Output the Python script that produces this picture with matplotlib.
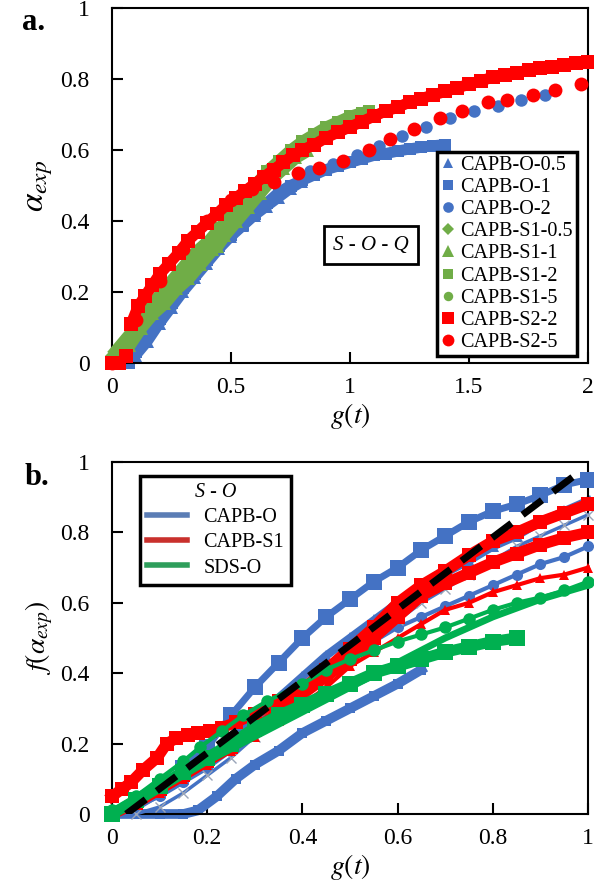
import matplotlib

matplotlib.use("Agg")
import matplotlib.pyplot as plt
from matplotlib.lines import Line2D

plt.rcParams["font.family"] = ["Liberation Serif", "DejaVu Serif"]
plt.rcParams["mathtext.fontset"] = "stix"

BLUE = "#4472C4"
GREEN_A = "#70AD47"
GREEN_B = "#00B050"
RED = "#FF0000"

# ---------------- panel a: alpha_exp vs g(t) ----------------
s2_2_x = [0, 0.03, 0.06, 0.08, 0.11, 0.14, 0.17, 0.2, 0.24, 0.28, 0.32, 0.36, 0.40, 0.44, 0.48,
          0.52, 0.56, 0.60, 0.64, 0.68, 0.72, 0.76, 0.80, 0.85, 0.90, 0.95, 1.0, 1.05, 1.1, 1.15,
          1.2, 1.25, 1.3, 1.35, 1.4, 1.45, 1.5, 1.55, 1.6, 1.65, 1.7, 1.75, 1.8, 1.85, 1.9, 1.95, 2.0]
s2_2_y = [0.0, 0.0, 0.02, 0.11, 0.16, 0.19, 0.22, 0.25, 0.28, 0.31, 0.345, 0.37, 0.395, 0.42, 0.445,
          0.465, 0.485, 0.505, 0.525, 0.545, 0.565, 0.585, 0.60, 0.615, 0.635, 0.65, 0.665, 0.68, 0.695,
          0.71, 0.72, 0.735, 0.745, 0.755, 0.765, 0.775, 0.785, 0.795, 0.805, 0.81, 0.818, 0.825, 0.83,
          0.835, 0.84, 0.845, 0.848]

s2_5_x = [0.0, 0.1, 0.2, 0.3, 0.4, 0.5, 0.59, 0.68, 0.78, 0.87, 0.97, 1.08, 1.17, 1.27, 1.38,
          1.47, 1.58, 1.66, 1.77, 1.86, 1.97]
s2_5_y = [0.0, 0.12, 0.23, 0.32, 0.40, 0.46, 0.49, 0.51, 0.535, 0.55, 0.57, 0.60, 0.63, 0.66, 0.69,
          0.71, 0.735, 0.74, 0.755, 0.77, 0.785]

o2_x = [0.1, 0.2, 0.3, 0.4, 0.5, 0.6, 0.7, 0.83, 0.93, 1.03, 1.12, 1.22, 1.32, 1.42, 1.52, 1.62,
        1.72, 1.82]
o2_y = [0.03, 0.12, 0.21, 0.29, 0.36, 0.43, 0.48, 0.54, 0.56, 0.585, 0.61, 0.64, 0.665, 0.69, 0.71,
        0.725, 0.74, 0.755]

o1_x = [0.07, 0.1, 0.15, 0.2, 0.25, 0.3, 0.35, 0.4, 0.45, 0.5, 0.55, 0.6, 0.65, 0.7, 0.75, 0.8,
        0.85, 0.9, 0.95, 1.0, 1.05, 1.1, 1.15, 1.2, 1.25, 1.3, 1.35, 1.4]
o1_y = [0.0, 0.03, 0.08, 0.125, 0.17, 0.21, 0.25, 0.29, 0.33, 0.36, 0.39, 0.42, 0.45, 0.48, 0.50,
        0.515, 0.53, 0.545, 0.555, 0.565, 0.575, 0.585, 0.59, 0.597, 0.603, 0.608, 0.612, 0.615]

o05_x = [0.06, 0.1, 0.15, 0.2, 0.25, 0.3, 0.35, 0.4, 0.45, 0.5, 0.55, 0.6, 0.65, 0.7, 0.75, 0.8]
o05_y = [0.0, 0.02, 0.06, 0.11, 0.155, 0.2, 0.24, 0.28, 0.32, 0.355, 0.385, 0.415, 0.44, 0.465,
         0.49, 0.51]

s1_2_x = [0.0, 0.05, 0.1, 0.15, 0.2, 0.25, 0.3, 0.35, 0.4, 0.45, 0.5, 0.55, 0.6, 0.65, 0.7, 0.75,
          0.8, 0.85, 0.9, 0.95, 1.0, 1.05, 1.08]
s1_2_y = [0.0, 0.04, 0.09, 0.14, 0.18, 0.22, 0.26, 0.30, 0.34, 0.38, 0.42, 0.46, 0.50, 0.54, 0.57,
          0.60, 0.625, 0.645, 0.665, 0.68, 0.695, 0.705, 0.71]

s1_1_x = [0.02, 0.07, 0.12, 0.17, 0.22, 0.27, 0.32, 0.37, 0.42, 0.44, 0.47, 0.52, 0.57, 0.62, 0.67,
          0.72, 0.77, 0.82]
s1_1_y = [0.0, 0.05, 0.10, 0.14, 0.17, 0.21, 0.24, 0.28, 0.32, 0.33, 0.36, 0.40, 0.44, 0.48, 0.52,
          0.55, 0.58, 0.60]

s1_05_x = [0.0, 0.05, 0.1, 0.15, 0.2, 0.25, 0.3, 0.35, 0.4]
s1_05_y = [0.02, 0.06, 0.1, 0.15, 0.19, 0.23, 0.27, 0.31, 0.34]

s1_5_x = [0.0, 0.05, 0.1, 0.15, 0.2, 0.25, 0.3]
s1_5_y = [0.01, 0.05, 0.09, 0.13, 0.17, 0.21, 0.25]

# ---------------- panel b: f(alpha_exp) vs g(t) ----------------
b_x21 = [0.0, 0.05, 0.1, 0.15, 0.2, 0.25, 0.3, 0.35, 0.4, 0.45, 0.5, 0.55, 0.6, 0.65, 0.7,
         0.75, 0.8, 0.85, 0.9, 0.95, 1.0]

capbo_sq_y = [0.0, 0.04, 0.08, 0.13, 0.19, 0.28, 0.36, 0.43, 0.50, 0.56, 0.61, 0.66, 0.70, 0.75,
              0.79, 0.83, 0.86, 0.88, 0.905, 0.935, 0.95]
capbo_dense_y = [0.0, 0.02, 0.06, 0.10, 0.15, 0.21, 0.27, 0.33, 0.39, 0.45, 0.50, 0.55, 0.60, 0.645,
                 0.685, 0.72, 0.76, 0.79, 0.83, 0.86, 0.89]
capbo_x_y = [0.0, 0.0, 0.02, 0.06, 0.11, 0.16, 0.22, 0.27, 0.33, 0.39, 0.45, 0.50, 0.55, 0.60,
             0.64, 0.68, 0.72, 0.76, 0.79, 0.82, 0.85]
capbo_circ_y = [0.0, 0.02, 0.05, 0.09, 0.13, 0.18, 0.23, 0.28, 0.33, 0.39, 0.44, 0.49, 0.53, 0.56,
                0.59, 0.62, 0.65, 0.68, 0.71, 0.73, 0.76]
capbo_low_x = [0.0, 0.05, 0.1, 0.15, 0.18, 0.22, 0.26, 0.3, 0.35, 0.4, 0.45, 0.5, 0.55, 0.6, 0.65]
capbo_low_y = [0.0, 0.0, 0.0, 0.0, 0.01, 0.05, 0.10, 0.14, 0.18, 0.23, 0.265, 0.30, 0.335, 0.37,
               0.41]

s1_up_x = [0.0, 0.02, 0.04, 0.065, 0.095, 0.115, 0.135, 0.16, 0.18, 0.205, 0.23, 0.26, 0.3, 0.35,
           0.4, 0.45, 0.5, 0.55, 0.6, 0.65, 0.7, 0.75, 0.8, 0.85, 0.9, 0.95, 1.0]
s1_up_y = [0.05, 0.07, 0.09, 0.125, 0.16, 0.20, 0.215, 0.225, 0.23, 0.235, 0.245, 0.26, 0.285, 0.32,
           0.355, 0.41, 0.47, 0.53, 0.60, 0.65, 0.69, 0.735, 0.775, 0.80, 0.83, 0.855, 0.88]
s1_low_y = [0.0, 0.03, 0.07, 0.11, 0.15, 0.19, 0.24, 0.29, 0.34, 0.39, 0.44, 0.50, 0.56, 0.62,
            0.655, 0.685, 0.715, 0.74, 0.765, 0.785, 0.80]
s1_tri_y = [0.0, 0.03, 0.06, 0.10, 0.14, 0.18, 0.22, 0.265, 0.31, 0.36, 0.42, 0.46, 0.50, 0.54,
            0.58, 0.60, 0.63, 0.65, 0.67, 0.68, 0.70]

sds_circ_x = [0.0, 0.05, 0.1, 0.15, 0.185, 0.23, 0.275, 0.325, 0.4, 0.45, 0.5, 0.55, 0.6, 0.65,
              0.7, 0.75, 0.8, 0.85, 0.9, 0.95, 1.0]
sds_circ_y = [0.01, 0.05, 0.10, 0.15, 0.19, 0.235, 0.28, 0.32, 0.37, 0.41, 0.44, 0.465, 0.49, 0.51,
              0.53, 0.555, 0.58, 0.60, 0.615, 0.635, 0.66]
sds_sq_x = [0.0, 0.05, 0.1, 0.15, 0.2, 0.25, 0.3, 0.35, 0.4, 0.45, 0.5, 0.55, 0.6, 0.65, 0.7,
            0.75, 0.8, 0.85]
sds_sq_y = [0.0, 0.04, 0.08, 0.12, 0.16, 0.20, 0.245, 0.28, 0.31, 0.34, 0.37, 0.40, 0.42, 0.44,
            0.46, 0.475, 0.49, 0.50]
sds_line_y = [0.0, 0.03, 0.07, 0.11, 0.15, 0.185, 0.22, 0.255, 0.29, 0.325, 0.36, 0.395, 0.43,
              0.465, 0.50, 0.53, 0.56, 0.585, 0.61, 0.63, 0.65]

fit_x = [0.03, 0.99]
fit_y = [0.0, 0.98]


def style_axes(ax, xticks, xlabels):
    ax.set_ylim(0, 1)
    ax.set_yticks([0, 0.2, 0.4, 0.6, 0.8, 1.0])
    ax.set_yticklabels(["0", "0.2", "0.4", "0.6", "0.8", "1"])
    ax.set_xticks(xticks)
    ax.set_xticklabels(xlabels)
    ax.tick_params(direction="in", length=8, width=1.5, labelsize=17)
    ax.tick_params(axis="y", pad=16)
    ax.tick_params(axis="x", pad=10)
    ax.tick_params(top=False, right=False)
    for spine in ax.spines.values():
        spine.set_linewidth(1.5)


def band(ax, x, y, color, width, z):
    # thick line under dense markers so the marker run reads as one band
    ax.plot(x, y, color=color, lw=width, solid_capstyle="butt", clip_on=False, zorder=z)


fig = plt.figure(figsize=(5.94, 8.9), dpi=100)
ax_a = fig.add_axes([0.1886, 0.5921, 0.8013, 0.3989])
ax_b = fig.add_axes([0.1886, 0.0854, 0.8013, 0.3955])

# panel a
mk = dict(linestyle="none", clip_on=False, markeredgewidth=0)
band(ax_a, o05_x, o05_y, BLUE, 7, 2)
band(ax_a, o1_x, o1_y, BLUE, 8, 2)
ax_a.plot(o05_x, o05_y, marker="^", ms=9, color=BLUE, label="CAPB-O-0.5", zorder=2, **mk)
ax_a.plot(o1_x, o1_y, marker="s", ms=8, color=BLUE, label="CAPB-O-1", zorder=2, **mk)
ax_a.plot(o2_x, o2_y, marker="o", ms=9, color=BLUE, label="CAPB-O-2", zorder=3, **mk)
band(ax_a, s1_1_x, s1_1_y, GREEN_A, 10, 3)
band(ax_a, s1_2_x, s1_2_y, GREEN_A, 8, 3)
band(ax_a, s1_05_x, s1_05_y, GREEN_A, 9, 3)
ax_a.plot(s1_05_x, s1_05_y, marker="D", ms=7, color=GREEN_A, label="CAPB-S1-0.5", zorder=3, **mk)
ax_a.plot(s1_1_x, s1_1_y, marker="^", ms=10, color=GREEN_A, label="CAPB-S1-1", zorder=3, **mk)
ax_a.plot(s1_2_x, s1_2_y, marker="s", ms=8, color=GREEN_A, label="CAPB-S1-2", zorder=3, **mk)
ax_a.plot(s1_5_x, s1_5_y, marker="o", ms=8, color=GREEN_A, label="CAPB-S1-5", zorder=3, **mk)
band(ax_a, s2_2_x[3:], s2_2_y[3:], RED, 8, 4)
ax_a.plot(s2_2_x, s2_2_y, marker="s", ms=9.5, color=RED, label="CAPB-S2-2", zorder=4, **mk)
ax_a.plot(s2_5_x, s2_5_y, marker="o", ms=10, color=RED, label="CAPB-S2-5", zorder=4, **mk)

ax_a.set_xlim(0, 2)
style_axes(ax_a, [0, 0.5, 1, 1.5, 2], ["0", "0.5", "1", "1.5", "2"])
ax_a.set_xlabel(r"$g(t)$", fontsize=20, labelpad=2)
ax_a.set_ylabel(r"$\alpha_{exp}$", fontsize=24, labelpad=4)

ax_a.text(0.464, 0.332, "S - O - Q", transform=ax_a.transAxes, fontsize=15, style="italic",
          va="center", ha="left", zorder=5,
          bbox=dict(boxstyle="square,pad=0.45", fc="white", ec="black", lw=2))

leg_a = ax_a.legend(loc="lower right", bbox_to_anchor=(0.977, 0.02), borderaxespad=0,
                    fontsize=14.5, fancybox=False, edgecolor="black", framealpha=1,
                    handlelength=0.7, handletextpad=0.25, labelspacing=0.15,
                    borderpad=0.2, markerscale=0.85)
leg_a.get_frame().set_linewidth(2.5)
leg_a.set_zorder(10)

# panel b
ax_b.plot(capbo_low_x, capbo_low_y, color=BLUE, lw=7, marker="s", ms=7, markeredgewidth=0,
          clip_on=False, zorder=2)
ax_b.plot(b_x21, capbo_dense_y, color=BLUE, lw=6, marker="^", ms=8, markeredgewidth=0,
          clip_on=False, zorder=2)
ax_b.plot(b_x21, capbo_sq_y, color=BLUE, lw=5, marker="s", ms=12, markeredgewidth=0,
          clip_on=False, zorder=3)
ax_b.plot(b_x21, capbo_circ_y, color=BLUE, lw=3, marker="o", ms=8, markeredgewidth=0,
          clip_on=False, zorder=3)
ax_b.plot(b_x21, capbo_x_y, color=BLUE, lw=2.5, marker="x", ms=7, mec="#9aa5b8",
          markeredgewidth=1, clip_on=False, zorder=3)

ax_b.plot(b_x21, s1_low_y, color=RED, lw=8, marker="s", ms=10, markeredgewidth=0,
          clip_on=False, zorder=4)
ax_b.plot(s1_up_x, s1_up_y, color=RED, lw=8, marker="s", ms=10, markeredgewidth=0,
          clip_on=False, zorder=4)
ax_b.plot(b_x21, s1_tri_y, color=RED, lw=3, marker="^", ms=7, markeredgewidth=0,
          clip_on=False, zorder=4)

ax_b.plot(sds_sq_x, sds_sq_y, color=GREEN_B, lw=8, marker="s", ms=12, markeredgewidth=0,
          clip_on=False, zorder=5)
ax_b.plot(b_x21, sds_line_y, color=GREEN_B, lw=5, clip_on=False, zorder=5)
ax_b.plot(sds_circ_x, sds_circ_y, color=GREEN_B, lw=3, marker="o", ms=9, markeredgewidth=0,
          clip_on=False, zorder=5)

ax_b.plot(fit_x, fit_y, color="black", lw=5, linestyle=(0, (3.5, 2)), zorder=8)

ax_b.set_xlim(0, 1)
style_axes(ax_b, [0, 0.2, 0.4, 0.6, 0.8, 1.0], ["0", "0.2", "0.4", "0.6", "0.8", "1"])
ax_b.set_xlabel(r"$g(t)$", fontsize=20, labelpad=2)
ax_b.set_ylabel(r"$f(\alpha_{exp})$", fontsize=20, labelpad=4)

handles_b = [
    Line2D([0], [0], color="#5B7DB5", lw=4),
    Line2D([0], [0], color="#C9302C", lw=4),
    Line2D([0], [0], color="#2E9E5B", lw=4),
]
leg_b = ax_b.legend(handles_b, ["CAPB-O", "CAPB-S1", "SDS-O"], loc="upper left",
                    bbox_to_anchor=(0.059, 0.96), borderaxespad=0, fontsize=14.5,
                    title="S - O", title_fontproperties={"size": 14.5, "style": "italic"},
                    fancybox=False, edgecolor="black", framealpha=1, handlelength=2.0,
                    handletextpad=0.8, labelspacing=0.3, borderpad=0.35)
leg_b.get_frame().set_linewidth(2.5)
leg_b.set_zorder(10)

fig.text(0.037, 0.975, "a.", fontsize=22, fontweight="bold", ha="left", va="center")
fig.text(0.042, 0.463, "b.", fontsize=22, fontweight="bold", ha="left", va="center")

fig.savefig("out.png", dpi=100)
